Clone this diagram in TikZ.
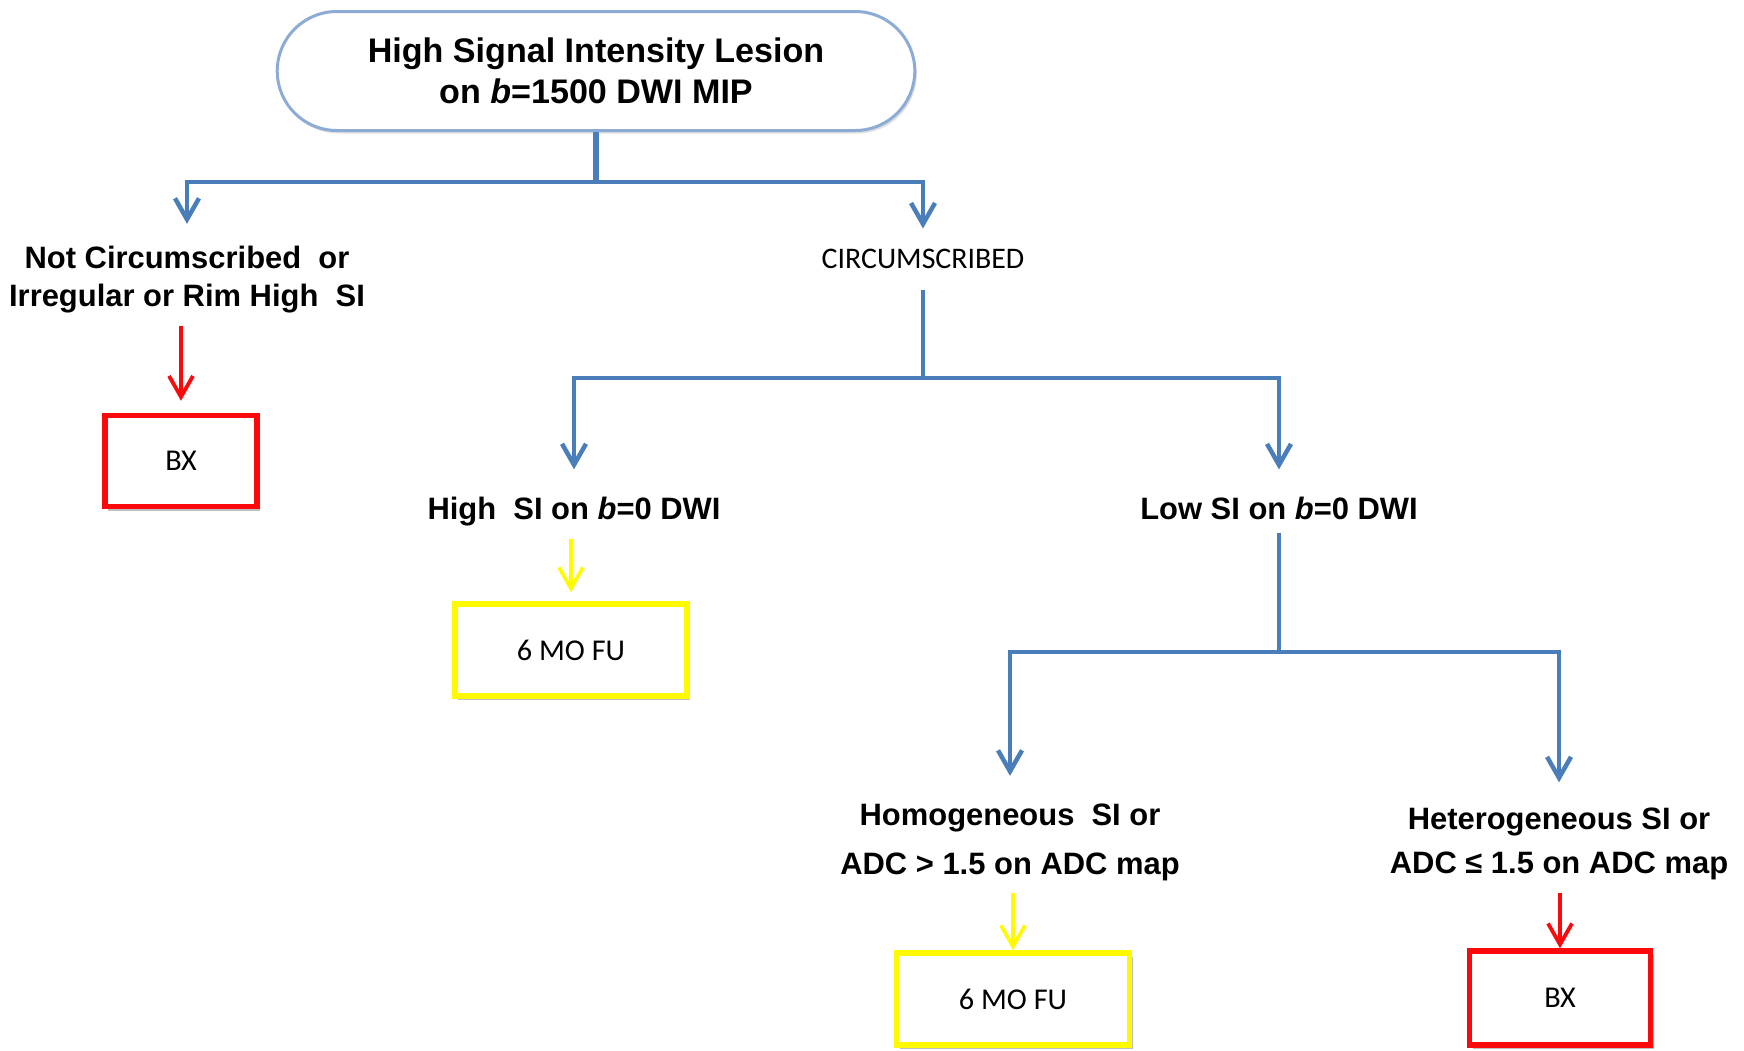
\documentclass[tikz,border=0pt]{standalone}
\usepackage{fontspec}
\setmainfont{Liberation Sans}
\newfontfamily\calibri{Carlito}
\usetikzlibrary{arrows.meta, positioning, calc, shapes.misc, shadows}

\definecolor{flowblue}{RGB}{74,126,187}
\definecolor{ovalblue}{RGB}{140,172,214}
\definecolor{bxred}{RGB}{250,10,10}
\definecolor{fuyellow}{RGB}{255,250,0}

\begin{document}
\begin{tikzpicture}[>={Straight Barb[length=0.21cm, width=0.24cm]},
	crit/.style={align=center, inner sep=0.12cm, font=\fontsize{8.8}{10.8}\selectfont\bfseries},
	result/.style={draw, line width=0.055cm, fill=white, font=\calibri\fontsize{8.6}{10}\selectfont,
		drop shadow={shadow xshift=0.03cm, shadow yshift=-0.04cm, fill=black, opacity=0.25}},
	branch/.style={flowblue, line width=0.045cm},
	outcome/.style={->, line width=0.038cm}]
				\useasboundingbox (0,0) rectangle (17.44,-10.50);
				
				\node[rounded rectangle, draw=ovalblue, line width=0.03cm, fill=white, minimum width=6.61cm, minimum height=1.19cm, align=center, font=\fontsize{9.7}{11.7}\selectfont\bfseries,
					drop shadow={shadow xshift=0.02cm, shadow yshift=-0.03cm, fill=black, opacity=0.12}] (root) at (5.96,-0.71) {High Signal Intensity Lesion\\on \textit{b}=1500 DWI MIP};
				
				\node[crit] (notcirc) at (1.87,-2.80) {Not Circumscribed\ \ or\\Irregular or Rim High\ \ SI};
				\node[crit, inner sep=0.2cm, font=\calibri\fontsize{8.5}{10}\selectfont] (circ) at (9.23,-2.59) {CIRCUMSCRIBED};
				\node[result, draw=bxred, minimum width=1.52cm, minimum height=0.91cm] (bx1) at (1.81,-4.61) {BX};
				
				\node[crit] (highsi) at (5.74,-5.115) {High\ \ SI on \textit{b}=0 DWI};
				\node[crit] (lowsi) at (12.79,-5.085) {Low SI on \textit{b}=0 DWI};
				\node[result, draw=fuyellow, minimum width=2.32cm, minimum height=0.92cm] (fu1) at (5.71,-6.50) {6 MO FU};
				
				\node[crit, font=\fontsize{8.8}{13.9}\selectfont\bfseries] (homog) at (10.10,-8.42) {Homogeneous\ \ SI or\\ADC > 1.5 on ADC map};
				\node[crit, font=\fontsize{8.8}{12.5}\selectfont\bfseries] (heterog) at (15.59,-8.44) {Heterogeneous SI or\\ADC ≤ 1.5 on ADC map};
				\node[result, draw=fuyellow, minimum width=2.33cm, minimum height=0.92cm] (fu2) at (10.13,-9.99) {6 MO FU};
				\node[result, draw=bxred, minimum width=1.81cm, minimum height=0.94cm] (bx2) at (15.60,-9.98) {BX};
				
				\draw[branch, line width=0.06cm] (root.south) -- ++(0,-0.50) coordinate (rootfork);
				\draw[branch, ->, shorten >=0.1cm] (rootfork) -| (notcirc.north);
				\draw[branch, ->] (rootfork) -| (circ.north);
				
				\coordinate (circfork) at (9.23,-3.78);
				\draw[branch] (circ) -- (circfork);
				\draw[branch, ->, shorten >=0.15cm] (circfork) -| (highsi.north);
				\draw[branch, ->, shorten >=0.15cm] (circfork) -| (lowsi.north);
				
				\coordinate (lowfork) at (12.79,-6.52);
				\draw[branch] (lowsi) -- (lowfork);
				\draw[branch, ->, shorten >=0.15cm] (lowfork) -| (homog.north);
				\draw[branch, ->, shorten >=0.13cm] (lowfork) -| (heterog.north);
				
				\draw[outcome, bxred, shorten >=0.12cm] (notcirc.south -| bx1) -- (bx1.north);
				\draw[outcome, fuyellow, shorten >=0.09cm] (highsi.south -| fu1) -- (fu1.north);
				\draw[outcome, fuyellow] (homog.south -| fu2) -- (fu2.north);
				\draw[outcome, bxred] (heterog.south -| bx2) -- (bx2.north);
			\end{tikzpicture}
\end{document}
